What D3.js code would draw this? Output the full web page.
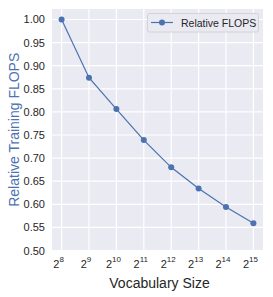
<!DOCTYPE html>
<html lang="en">
<head>
<meta charset="UTF-8">
<title>Relative FLOPS</title>
<script src="https://cdn.jsdelivr.net/npm/d3@7"></script>
<style>
  body { margin: 0; background: white; }
  text { font-family: "Liberation Sans", Arial, sans-serif; }
</style>
</head>
<body>
<script>
// data
var exponents = [8, 9, 10, 11, 12, 13, 14, 15];
var flops = [1.000, 0.874, 0.806, 0.739, 0.680, 0.634, 0.594, 0.559];
var yTicks = [0.50, 0.55, 0.60, 0.65, 0.70, 0.75, 0.80, 0.85, 0.90, 0.95, 1.00];
var seriesName = "Relative FLOPS";

var W = 273, H = 297;
var pL = 52, pR = 263, pT = 9, pB = 250.5;
var blue = "#4c72b0";

var svg = d3.select("body").append("svg").attr("width", W).attr("height", H);

var x = d3.scaleLinear().domain([7.65, 15.35]).range([pL, pR]);
var y = d3.scaleLinear().domain([0.5, 1.0227]).range([pB, pT]);

svg.append("rect").attr("x", pL).attr("y", pT)
  .attr("width", pR - pL).attr("height", pB - pT).attr("fill", "#eaeaf2");

// grid
svg.selectAll("line.gx").data(exponents).enter().append("line")
  .attr("x1", function(d){ return x(d); }).attr("x2", function(d){ return x(d); })
  .attr("y1", pT).attr("y2", pB)
  .attr("stroke", "white").attr("stroke-width", 1.2);
svg.selectAll("line.gy").data(yTicks).enter().append("line")
  .attr("y1", function(d){ return y(d); }).attr("y2", function(d){ return y(d); })
  .attr("x1", pL).attr("x2", pR)
  .attr("stroke", "white").attr("stroke-width", 1.2);

// y tick labels
svg.selectAll("text.yt").data(yTicks).enter().append("text")
  .attr("x", 45).attr("y", function(d){ return y(d) + 4; })
  .attr("text-anchor", "end").attr("font-size", 11).attr("fill", "#262626")
  .text(function(d){ return d.toFixed(2); });

// x tick labels 2^n
var xt = svg.selectAll("text.xt").data(exponents).enter().append("text")
  .attr("x", function(d){ return x(d) - 3; }).attr("y", 268)
  .attr("text-anchor", "middle").attr("font-size", 11).attr("fill", "#262626");
xt.append("tspan").text("2");
xt.append("tspan").attr("dy", -6).attr("font-size", 8).text(function(d){ return d; });

// axis labels
svg.append("text").attr("x", (pL + pR) / 2 + 2).attr("y", 288)
  .attr("text-anchor", "middle").attr("font-size", 14).attr("fill", "#262626")
  .text("Vocabulary Size");
svg.append("text").attr("transform", "translate(19," + ((pT + pB) / 2) + ") rotate(-90)")
  .attr("text-anchor", "middle").attr("font-size", 14).attr("fill", blue)
  .text("Relative Training FLOPS");

// line + markers
var pts = exponents.map(function(e, i){ return [e, flops[i]]; });
svg.append("path").datum(pts)
  .attr("d", d3.line().x(function(d){ return x(d[0]); }).y(function(d){ return y(d[1]); }))
  .attr("fill", "none").attr("stroke", blue).attr("stroke-width", 1.2);
svg.selectAll("circle.pt").data(pts).enter().append("circle")
  .attr("cx", function(d){ return x(d[0]); }).attr("cy", function(d){ return y(d[1]); })
  .attr("r", 3).attr("fill", blue);

// legend
var lg = svg.append("g");
lg.append("rect").attr("x", 147.5).attr("y", 13.5).attr("width", 111).attr("height", 18.5)
  .attr("rx", 2).attr("fill", "#eaeaf2").attr("stroke", "#cccccc").attr("stroke-width", 0.8);
lg.append("line").attr("x1", 151).attr("x2", 173).attr("y1", 22.5).attr("y2", 22.5)
  .attr("stroke", blue).attr("stroke-width", 1.2);
lg.append("circle").attr("cx", 162).attr("cy", 22.5).attr("r", 3).attr("fill", blue);
lg.append("text").attr("x", 181).attr("y", 26.5).attr("font-size", 10.5).attr("fill", "#262626")
  .text(seriesName);
</script>
</body>
</html>
